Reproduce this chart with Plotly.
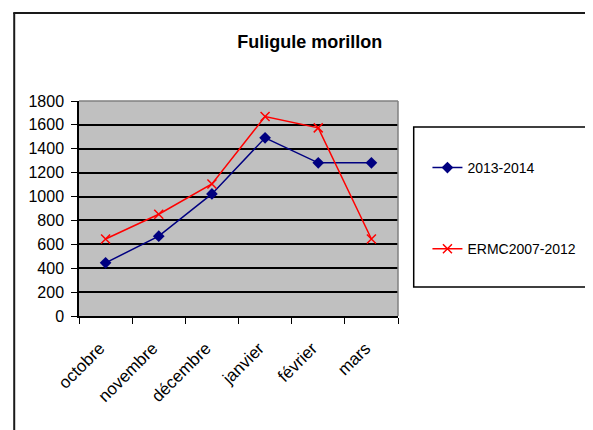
import plotly.graph_objects as go

months = ["octobre", "novembre", "décembre", "janvier", "février", "mars"]
serie_2013_2014 = [445, 668, 1022, 1492, 1282, 1282]
serie_ermc = [645, 852, 1105, 1670, 1575, 645]
y_ticks = [0, 200, 400, 600, 800, 1000, 1200, 1400, 1600, 1800]

FONT = "Liberation Sans, Arial, sans-serif"

fig = go.Figure()
fig.add_trace(go.Scatter(
    x=months, y=serie_2013_2014, name="2013-2014", mode="lines+markers",
    line=dict(color="#000080", width=1.5),
    marker=dict(symbol="diamond", size=9, color="#000080"),
    legendgroup="a",
))
fig.add_trace(go.Scatter(
    x=months, y=serie_ermc, name="ERMC2007-2012", mode="lines+markers",
    line=dict(color="#FF0000", width=1.5),
    marker=dict(symbol="x-thin", size=9, color="#FF0000",
                line=dict(color="#FF0000", width=1.5)),
    legendgroup="b",
))

OFF = 8  # default page body margin
W, H = 593 - OFF, 430 - OFF
L, R, T, B = 79, 404, 101, 316  # plot area in page pixels

def px(x):
    return (x - L) / (R - L)

def py(y):
    return (B - y) / (B - T)

shapes = [
    dict(type="line", xref="paper", yref="paper", x0=px(13), x1=px(13),
         y0=py(13), y1=py(440), line=dict(color="#1a1a1a", width=2)),
    dict(type="line", xref="paper", yref="paper", x0=px(12), x1=px(600),
         y0=py(13), y1=py(13), line=dict(color="#1a1a1a", width=2)),
    dict(type="line", xref="paper", yref="paper", x0=0, x1=1, y0=1, y1=1,
         line=dict(color="#808080", width=1.5), layer="above"),
    dict(type="line", xref="paper", yref="paper", x0=1, x1=1, y0=0, y1=1,
         line=dict(color="#808080", width=1.5), layer="above"),
    dict(type="rect", xref="paper", yref="paper", x0=px(420), x1=px(610),
         y0=py(287), y1=py(127), line=dict(color="#000000", width=1.5)),
]

fig.update_layout(
    width=W, height=H,
    margin=dict(l=L - OFF, r=W - (R - OFF), t=T - OFF, b=H - (B - OFF), pad=0),
    paper_bgcolor="white",
    plot_bgcolor="#C0C0C0",
    font=dict(family=FONT, color="#000000", size=16),
    title=dict(text="<b>Fuligule morillon</b>", x=(309.7 - OFF) / W, xanchor="center",
               y=1 - (42 - OFF) / H, yanchor="middle",
               font=dict(family=FONT, size=18, color="#000000")),
    showlegend=True,
    legend=dict(x=px(434), xanchor="left", y=py(152), yanchor="top",
                bgcolor="rgba(0,0,0,0)", borderwidth=0,
                font=dict(family=FONT, size=14, color="#000000"),
                tracegroupgap=60, itemwidth=30),
    shapes=shapes,
)

fig.update_xaxes(
    type="category", range=[-0.5, 5.5], tickson="boundaries",
    showgrid=False, ticks="outside", ticklen=6, tickwidth=1, tickcolor="#000",
    showline=True, linecolor="#000", linewidth=1.5,
    tickangle=-45, tickfont=dict(family=FONT, size=17, color="#000"),
    zeroline=False, ticklabelstandoff=14, ticklabelshift=-6,
)
fig.update_yaxes(
    range=[0, 1800], tickvals=y_ticks, ticktext=[str(v) for v in y_ticks],
    showgrid=True, gridcolor="#000000", gridwidth=1.5,
    ticks="outside", ticklen=6, tickwidth=1, tickcolor="#000",
    showline=True, linecolor="#000", linewidth=1.5,
    tickfont=dict(family=FONT, size=16, color="#000"),
    zeroline=False, ticklabelstandoff=4,
)

fig.write_html("out.html", config={"displayModeBar": False})
